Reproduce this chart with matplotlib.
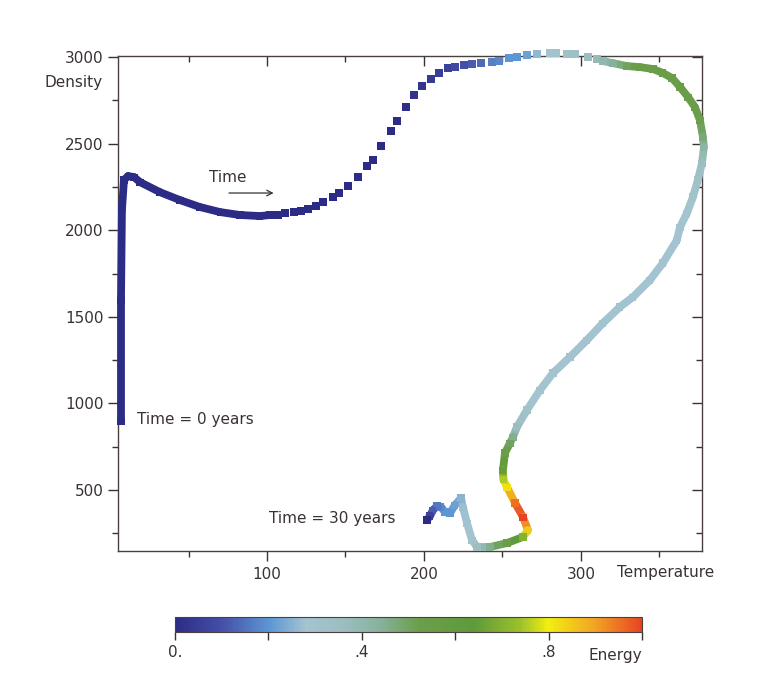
import numpy as np
import matplotlib.pyplot as plt
from matplotlib.colors import LinearSegmentedColormap, Normalize
from matplotlib.collections import LineCollection
from matplotlib.cm import ScalarMappable

# first part of the path: vertical rise then the dip (drawn as a thick band)
temp_start = [7.0, 7.0, 7.6, 8.9, 11.5, 15.3, 19.1, 31.8, 44.6, 57.3, 70.1, 82.8, 95.5, 101.9]
dens_start = [898, 1597, 2117, 2290, 2313, 2307, 2278, 2220, 2174, 2134, 2105, 2088, 2082, 2088]
energy_start = [0.0] * len(temp_start)

# middle part: separate squares
temp_mid = [107.0, 111.5, 117.2, 121.7, 126.1, 131.2, 135.7, 142.0, 145.9, 151.6, 158.0,
            163.7, 167.5, 172.6, 179.0, 182.8, 188.5, 193.6, 198.7, 204.5, 209.6, 215.3,
            219.7, 225.5, 230.6, 236.3, 243.3, 247.8, 254.1, 259.2, 265.6, 272.0, 280.3,
            284.1, 291.1, 296.2, 304.5, 310.2, 314.0]
dens_mid = [2088, 2099, 2105, 2111, 2122, 2140, 2163, 2192, 2215, 2255, 2307,
            2371, 2405, 2486, 2573, 2630, 2711, 2781, 2833, 2873, 2908, 2936,
            2942, 2954, 2960, 2965, 2971, 2977, 2994, 3000, 3012, 3017, 3023,
            3023, 3017, 3017, 3000, 2988, 2977]
energy_mid = [0.0, 0.0, 0.0, 0.0, 0.0, 0.0, 0.0, 0.0, 0.0, 0.0, 0.0,
              0.0, 0.0, 0.0, 0.0, 0.0, 0.01, 0.02, 0.03, 0.04, 0.05, 0.06,
              0.08, 0.1, 0.12, 0.14, 0.17, 0.18, 0.2, 0.2, 0.22, 0.26, 0.28,
              0.3, 0.32, 0.33, 0.36, 0.38, 0.4]

# last part: the loop round the right side and down to 30 years (thick band)
temp_end = [314.0, 320.4, 329.3, 337.6, 345.9, 352.2, 358.0, 363.1, 368.2, 372.6, 375.8,
            377.7, 378.3, 377.1, 374.5, 371.3, 367.5, 363.1, 361.1, 352.2, 343.9,
            333.1, 324.8, 314.0, 303.8, 293.0, 282.2, 273.9, 265.6, 259.2, 256.7,
            254.8, 251.6, 250.3, 250.6, 252.9, 258.0, 263.1, 266.2, 263.1, 252.9,
            242.0, 233.8, 230.6, 227.4, 224.8, 223.6, 219.7, 216.6, 213.4, 210.8,
            208.3, 205.7, 203.8, 201.9]
dens_end = [2977, 2965, 2948, 2942, 2931, 2908, 2879, 2827, 2769, 2711, 2636,
            2538, 2480, 2388, 2290, 2192, 2099, 2018, 1943, 1811, 1712,
            1614, 1557, 1464, 1366, 1268, 1176, 1077, 962, 864, 806,
            771, 714, 615, 560, 517, 425, 344, 269, 229, 194,
            171, 171, 211, 309, 402, 454, 413, 367, 373, 402,
            408, 384, 350, 327]
energy_end = [0.4, 0.44, 0.5, 0.55, 0.55, 0.55, 0.55, 0.55, 0.55, 0.55, 0.52,
              0.48, 0.42, 0.36, 0.32, 0.3, 0.29, 0.28, 0.28, 0.28, 0.28,
              0.28, 0.28, 0.28, 0.28, 0.28, 0.28, 0.28, 0.3, 0.36, 0.45,
              0.5, 0.55, 0.65, 0.75, 0.82, 0.95, 1.0, 0.85, 0.7, 0.55,
              0.45, 0.35, 0.3, 0.28, 0.27, 0.25, 0.22, 0.2, 0.2, 0.18,
              0.16, 0.12, 0.06, 0.0]

# colour scale of the energy bar
cmap_pos = [0.0, 0.1, 0.2, 0.28, 0.36, 0.44, 0.52, 0.64, 0.74, 0.8, 0.9, 1.0]
cmap_col = ['#2c2c86', '#4650a8', '#5c96d4', '#a4c4d0', '#9cbec0', '#86b29c',
            '#6c9e4c', '#5e9a3a', '#9cc02c', '#f2ee10', '#f2a424', '#e84424']
energy_cmap = LinearSegmentedColormap.from_list('energy', list(zip(cmap_pos, cmap_col)))
norm = Normalize(0, 1)

text_col = '#3a3232'
plt.rcParams['font.family'] = 'DejaVu Sans'
plt.rcParams['text.color'] = text_col
plt.rcParams['xtick.color'] = text_col
plt.rcParams['ytick.color'] = text_col

fig = plt.figure(figsize=(7.8, 6.75), dpi=100)
ax = fig.add_axes([0.1513, 0.1837, 0.7487, 0.7333])


def band(t, d, e, width=5.6):
    pts = np.column_stack([t, d])
    segs = np.stack([pts[:-1], pts[1:]], axis=1)
    e = np.asarray(e)
    lc = LineCollection(segs, colors=energy_cmap(norm((e[:-1] + e[1:]) / 2)),
                        linewidths=width, capstyle='round', clip_on=False, zorder=3)
    ax.add_collection(lc)
    ax.scatter(t, d, c=e, cmap=energy_cmap, norm=norm, marker='s', s=26,
               linewidths=0, clip_on=False, zorder=3)


band(temp_start, dens_start, energy_start)
band(temp_end, dens_end, energy_end)
ax.scatter(temp_mid, dens_mid, c=energy_mid, cmap=energy_cmap, norm=norm, marker='s',
           s=34, linewidths=0, clip_on=False, zorder=3)

ax.set_xlim(5.1, 377.1)
ax.set_ylim(148, 3006)
ax.set_xticks([100, 200, 300])
ax.set_xticks([50, 150, 250, 350], minor=True)
ax.set_yticks([500, 1000, 1500, 2000, 2500, 3000])
ax.set_yticks([250, 750, 1250, 1750, 2250, 2750], minor=True)
ax.tick_params(axis='both', which='major', labelsize=11, length=7.5, width=1)
ax.tick_params(axis='both', which='minor', length=4.5, width=1)
ax.tick_params(axis='x', which='both', top=True, pad=4)
ax.tick_params(axis='y', which='both', right=True, pad=3)
# ticks on top and right point inwards
for tk in ax.xaxis.get_major_ticks() + ax.xaxis.get_minor_ticks():
    tk.tick2line.set_marker(3)
for tk in ax.yaxis.get_major_ticks() + ax.yaxis.get_minor_ticks():
    tk.tick2line.set_marker(0)
for s in ax.spines.values():
    s.set_color('#4a4040')
    s.set_linewidth(1)

ax.text(-0.026, 2856, 'Density', transform=ax.get_yaxis_transform(),
        ha='right', va='center', fontsize=11)
ax.annotate('Temperature', xy=(323, 0), xycoords=('data', 'axes fraction'),
            xytext=(0, -10), textcoords='offset points', ha='left', va='top', fontsize=11)

ax.text(75, 2307, 'Time', ha='center', va='center', fontsize=11)
ax.annotate('', xy=(106, 2215), xytext=(74, 2215),
            arrowprops=dict(arrowstyle='->', color=text_col, lw=0.9))
ax.text(17.2, 910, 'Time = 0 years', ha='left', va='center', fontsize=11)
ax.text(101.3, 333, 'Time = 30 years', ha='left', va='center', fontsize=11)

# energy colour bar
cax = fig.add_axes([0.2244, 0.0637, 0.5987, 0.0222])
cb = fig.colorbar(ScalarMappable(norm=norm, cmap=energy_cmap), cax=cax, orientation='horizontal')
cb.set_ticks([0, 0.2, 0.4, 0.6, 0.8, 1.0])
cb.set_ticklabels(['0.', '', '.4', '', '.8', ''])
cb.outline.set_edgecolor('#4a4040')
cax.tick_params(length=6, width=1, labelsize=11, pad=3)
cax.text(1.0, -1.05, 'Energy', transform=cax.transAxes, ha='right', va='top', fontsize=11)

fig.savefig('out.png', dpi=100)
